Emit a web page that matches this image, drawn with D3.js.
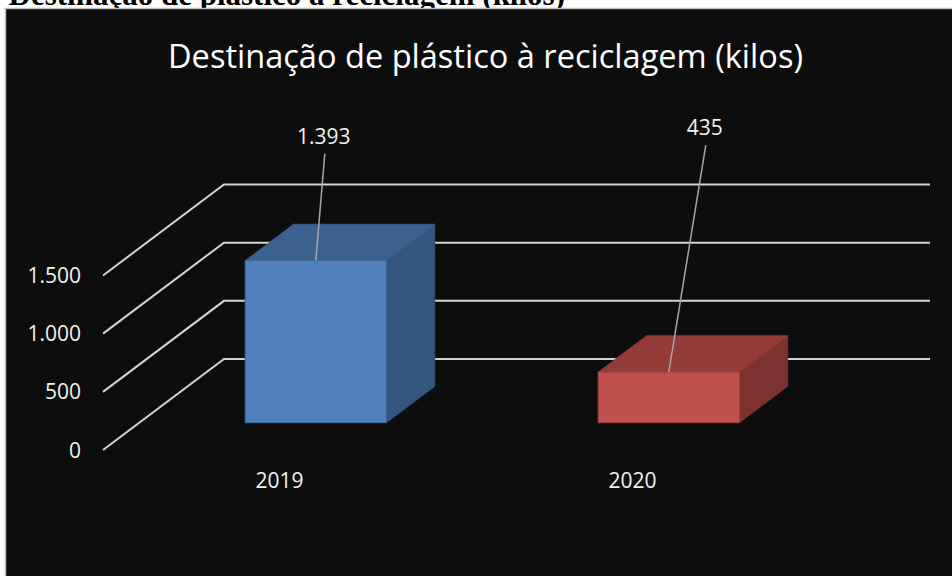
<!DOCTYPE html>
<html>
<head>
<meta charset="utf-8">
<script src="https://cdn.jsdelivr.net/npm/d3@7"></script>
<style>
  html, body { margin: 0; padding: 0; background: #ffffff; overflow: hidden; }
  svg { display: block; }
</style>
</head>
<body>
<div id="chart"></div>
<script>
// DATA
const categories = ["2019", "2020"];
const values = [1393, 435];
const valueLabels = ["1.393", "435"];
const yTicks = [0, 500, 1000, 1500];
const yTickLabels = ["0", "500", "1.000", "1.500"];

const caption = "Gráfico 1 - Destinação de plástico à reciclagem (kilos)";
const title = "Destinação de plástico à reciclagem (kilos)";

// colours per series point: front, top, side
const faceColors = [
  { front: "#4f81bd", top: "#3c6190", side: "#33557e", edge: "#41699a" },
  { front: "#c0504d", top: "#923b39", side: "#7c3230", edge: "#9e413f" }
];
// label nudges relative to the top-front centre of each bar (layout only)
const labelNudge = [[8, -117], [36, -237]];

const width = 952;
const height = 576;

const svg = d3.select("#chart")
  .append("svg")
  .attr("width", width)
  .attr("height", height);

// CAPTION (cut off by the chart box, as in the source document)
svg.append("text")
  .attr("x", 565)
  .attr("y", 5)
  .attr("text-anchor", "end")
  .style("font-family", "'Liberation Serif', 'DejaVu Serif', serif")
  .style("font-weight", "bold")
  .style("font-size", "31px")
  .style("fill", "#000")
  .text(caption);

// CHART BOX
svg.append("rect")
  .attr("x", 5.5)
  .attr("y", 8.5)
  .attr("width", width)
  .attr("height", height)
  .style("fill", "#0d0d0d")
  .style("stroke", "#bfbfbf")
  .style("stroke-width", 1.5);

// TITLE
svg.append("text")
  .attr("x", 485.5)
  .attr("y", 68)
  .attr("text-anchor", "middle")
  .attr("textLength", 635)
  .attr("lengthAdjust", "spacingAndGlyphs")
  .style("font-family", "'Open Sans', sans-serif")
  .style("font-size", "33px")
  .style("fill", "#ffffff")
  .text(title);

// 3D FRAME
const x0 = 103;          // left edge of front plane
const plotW = 706;
const depth = [121, -91]; // offset of the back wall
const t0 = 0.3, t1 = 0.7; // bar depth range

const x = d3.scaleBand()
  .domain(categories)
  .range([0, plotW]);

const y = d3.scaleLinear()
  .domain([0, 1500])
  .range([450, 275.5]);

function project(px, py, t) {
  return [x0 + px + t * depth[0], py + t * depth[1]];
}

// GRIDLINES (side wall + back wall)
const grid = svg.append("g");
grid.selectAll("polyline")
  .data(yTicks)
  .join("polyline")
  .attr("points", v => [
      project(0, y(v), 0),
      project(0, y(v), 1),
      project(plotW, y(v), 1)
    ].map(p => p.join(",")).join(" "))
  .style("fill", "none")
  .style("stroke", "#d4d4d4")
  .style("stroke-width", 2);

// Y LABELS
svg.append("g")
  .selectAll("text")
  .data(yTicks)
  .join("text")
  .attr("x", 81)
  .attr("y", v => y(v))
  .attr("dy", "0.36em")
  .attr("text-anchor", "end")
  .style("font-family", "'Open Sans', sans-serif")
  .style("font-size", "21px")
  .style("fill", "#f2f2f2")
  .text((v, i) => yTickLabels[i]);

// BARS
const barW = x.bandwidth() * 0.4;
const bars = categories.map((c, i) => {
  const left = x(c) + (x.bandwidth() - barW) / 2;
  const right = left + barW;
  const top = y(values[i]);
  const bottom = y(0);
  return {
    i,
    fl: project(left, top, t0), fr: project(right, top, t0),
    frb: project(right, bottom, t0), flb: project(left, bottom, t0),
    bl: project(left, top, t1), br: project(right, top, t1),
    brb: project(right, bottom, t1)
  };
});

const pts = arr => arr.map(p => p.join(",")).join(" ");
const gBars = svg.append("g");

gBars.selectAll("polygon.side")
  .data(bars)
  .join("polygon")
  .attr("class", "side")
  .attr("points", b => pts([b.fr, b.br, b.brb, b.frb]))
  .style("fill", b => faceColors[b.i].side)
  .style("stroke", b => faceColors[b.i].side)
  .style("stroke-width", 0.8);

gBars.selectAll("polygon.top")
  .data(bars)
  .join("polygon")
  .attr("class", "top")
  .attr("points", b => pts([b.fl, b.bl, b.br, b.fr]))
  .style("fill", b => faceColors[b.i].top)
  .style("stroke", b => faceColors[b.i].top)
  .style("stroke-width", 0.8);

gBars.selectAll("polygon.front")
  .data(bars)
  .join("polygon")
  .attr("class", "front")
  .attr("points", b => pts([b.fl, b.fr, b.frb, b.flb]))
  .style("fill", b => faceColors[b.i].front)
  .style("stroke", b => faceColors[b.i].edge)
  .style("stroke-width", 1);

// CATEGORY LABELS
svg.append("g")
  .selectAll("text")
  .data(categories)
  .join("text")
  .attr("x", c => x0 + x(c) + x.bandwidth() / 2)
  .attr("y", 488)
  .attr("text-anchor", "middle")
  .style("font-family", "'Open Sans', sans-serif")
  .style("font-size", "21px")
  .style("fill", "#f2f2f2")
  .text(c => c);

// DATA LABELS + LEADER LINES
const labels = bars.map(b => {
  const ax = (b.fl[0] + b.fr[0]) / 2;
  const ay = b.fl[1];
  return { i: b.i, ax, ay, lx: ax + labelNudge[b.i][0], ly: ay + labelNudge[b.i][1] };
});

svg.append("g")
  .selectAll("line")
  .data(labels)
  .join("line")
  .attr("x1", d => d.lx + 1)
  .attr("y1", d => d.ly + 10)
  .attr("x2", d => d.ax)
  .attr("y2", d => d.ay)
  .style("stroke", "#a6a6a6")
  .style("stroke-width", 1.5);

svg.append("g")
  .selectAll("text")
  .data(labels)
  .join("text")
  .attr("x", d => d.lx)
  .attr("y", d => d.ly)
  .attr("text-anchor", "middle")
  .style("font-family", "'Open Sans', sans-serif")
  .style("font-size", "21px")
  .style("fill", "#f2f2f2")
  .text(d => valueLabels[d.i]);
</script>
</body>
</html>
